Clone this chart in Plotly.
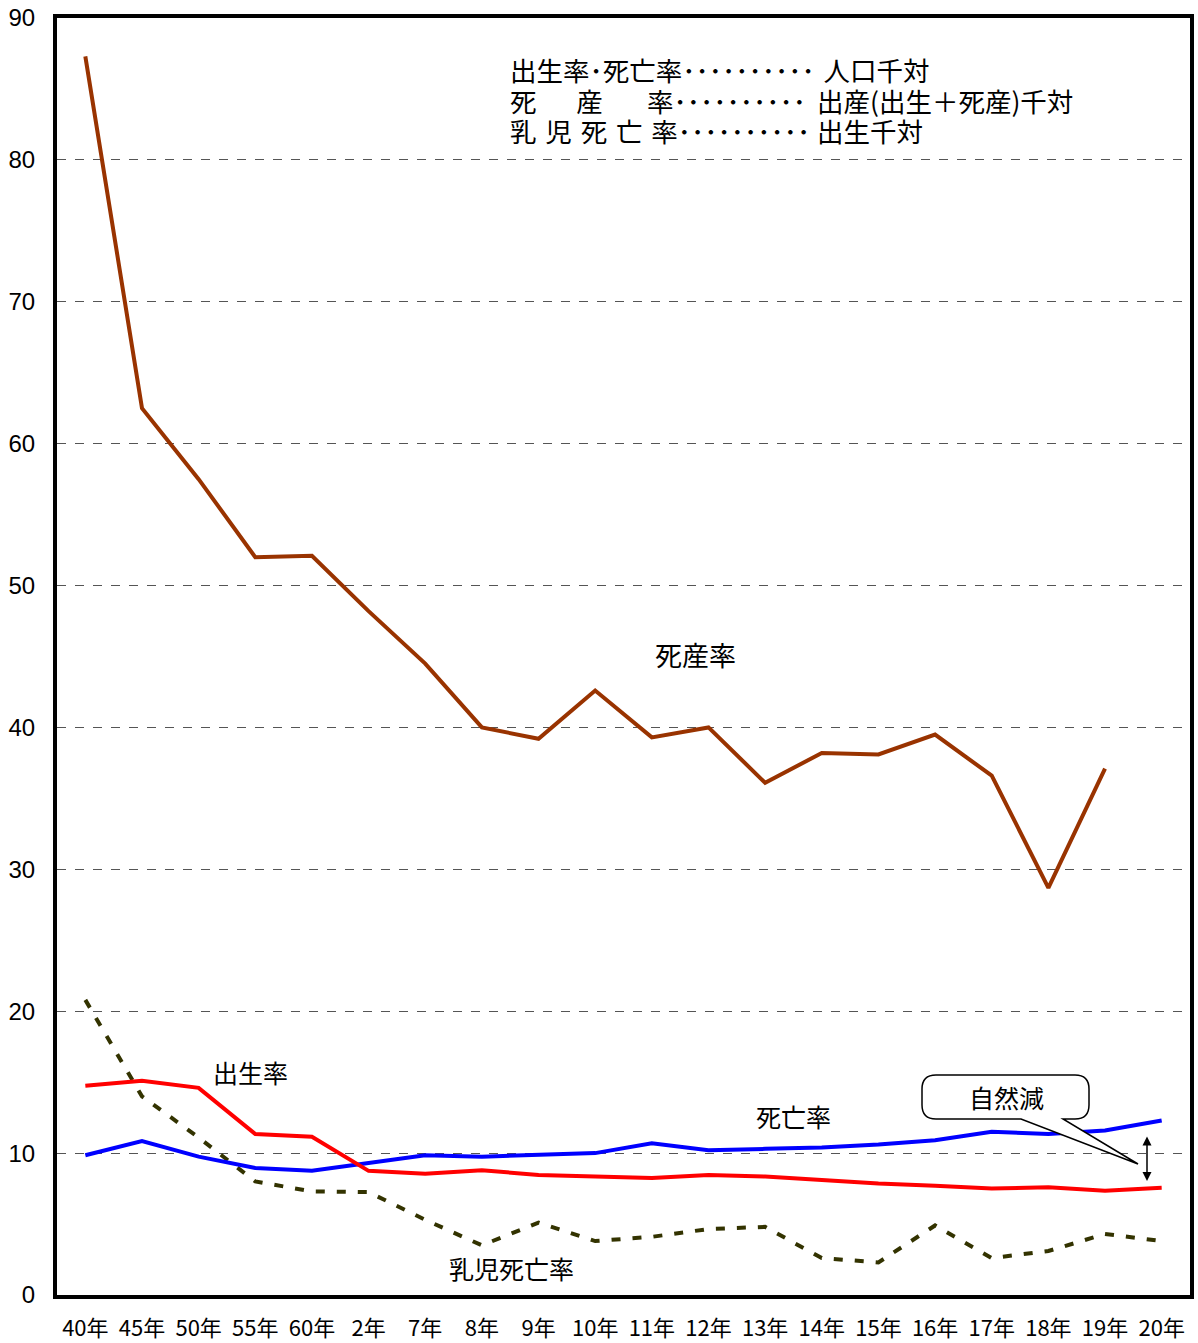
import plotly.graph_objects as go

categories = ["40年", "45年", "50年", "55年", "60年", "2年", "7年", "8年", "9年", "10年",
              "11年", "12年", "13年", "14年", "15年", "16年", "17年", "18年", "19年", "20年"]
stillbirth = [87.3, 62.5, 57.5, 52.0, 52.1, 48.2, 44.5, 40.0, 39.2, 42.6,
              39.3, 40.0, 36.1, 38.2, 38.1, 39.5, 36.6, 28.7, 37.1, None]
birth = [14.75, 15.1, 14.6, 11.35, 11.15, 8.75, 8.55, 8.8, 8.45, 8.35,
         8.25, 8.45, 8.35, 8.1, 7.85, 7.7, 7.5, 7.6, 7.35, 7.55]
death = [9.85, 10.85, 9.75, 8.95, 8.75, 9.3, 9.85, 9.75, 9.85, 10.0,
         10.7, 10.2, 10.3, 10.4, 10.6, 10.9, 11.5, 11.35, 11.6, 12.3]
infant = [20.8, 14.0, 11.1, 8.0, 7.3, 7.25, 5.3, 3.5, 5.1, 3.8,
          4.1, 4.65, 4.8, 2.6, 2.3, 4.9, 2.6, 3.1, 4.3, 3.8]
y_ticks = [0, 10, 20, 30, 40, 50, 60, 70, 80, 90]

FONT = "Noto Sans CJK JP"
W, H = 1198, 1343
L, R, T, B = 57, 1190, 18, 1295

x = list(range(len(categories)))

fig = go.Figure()
fig.add_trace(go.Scatter(x=x, y=stillbirth, mode="lines", line=dict(color="#993300", width=4)))
fig.add_trace(go.Scatter(x=x, y=infant, mode="lines",
                         line=dict(color="#333300", width=4, dash="9px,12px")))
fig.add_trace(go.Scatter(x=x, y=death, mode="lines", line=dict(color="#0000FF", width=4)))
fig.add_trace(go.Scatter(x=x, y=birth, mode="lines", line=dict(color="#FF0000", width=4)))


def px(xp):
    return (xp - L) / (R - L)


def py(yp):
    return (B - yp) / (B - T)


# Callout bubble "自然減"
rl, rr, rt, rb, rad = 922, 1089, 1075, 1119, 14
tail_l, tail_r, tip = 1021, 1063, (1138, 1164)
path = (
    f"M {px(rl+rad)},{py(rt)} L {px(rr-rad)},{py(rt)} "
    f"Q {px(rr)},{py(rt)} {px(rr)},{py(rt+rad)} "
    f"L {px(rr)},{py(rb-rad)} Q {px(rr)},{py(rb)} {px(rr-rad)},{py(rb)} "
    f"L {px(tail_r)},{py(rb)} L {px(tip[0])},{py(tip[1])} L {px(tail_l)},{py(rb)} "
    f"L {px(rl+rad)},{py(rb)} Q {px(rl)},{py(rb)} {px(rl)},{py(rb-rad)} "
    f"L {px(rl)},{py(rt+rad)} Q {px(rl)},{py(rt)} {px(rl+rad)},{py(rt)} Z"
)
fig.add_shape(type="path", path=path, xref="paper", yref="paper",
              line=dict(color="black", width=1.5), fillcolor="white", layer="above")

annos = []


def txt(text, xp, yp, size=25, anchor="center", align="center"):
    annos.append(dict(text=text, x=px(xp), y=py(yp), xref="paper", yref="paper",
                      showarrow=False, xanchor=anchor, yanchor="middle", align=align,
                      font=dict(family=FONT, size=size, color="black")))


txt("自然減", 1006, 1097, 25)
txt("死産率", 695, 654, 27)
txt("出生率", 250, 1072, 25)
txt("死亡率", 793, 1116, 25)
txt("乳児死亡率", 511, 1268, 25)

# notes block (one text, base size sets line pitch, span sets glyph size)
dots = "･" * 10
EM, EN, P4, P6, P3 = "\u2003", "\u2002", "\u2005", "\u2006", "\u2004"
line1 = "出生率･死亡率" + dots + P6 + P6 + "人口千対"
line2 = "死" + EM + EN + "産" + EM + EN + P6 + "率" + dots + P4 + P6 + "出産(出生＋死産)千対"
line3 = "乳" + P3 + "児" + P3 + "死" + P3 + "亡" + P3 + "率" + dots + P4 + "出生千対"
notes = "<br>".join(f"<span style='font-size:26.5px'>{s}</span>" for s in (line1, line2, line3))
txt(notes, 508, 100, 23.5, "left", "left")

# double arrow
annos.append(dict(x=px(1147), y=py(1181), xref="paper", yref="paper",
                  axref="pixel", ayref="pixel", ax=0, ay=-46, text="", showarrow=True,
                  arrowhead=2, startarrowhead=2, arrowside="end+start",
                  arrowwidth=1.5, arrowsize=1.2, startarrowsize=1.2, arrowcolor="black"))

fig.update_layout(
    width=W, height=H,
    margin=dict(l=L, r=W - R, t=T, b=H - B, autoexpand=False),
    paper_bgcolor="white", plot_bgcolor="white",
    showlegend=False,
    annotations=annos,
    font=dict(family=FONT, size=20, color="black"),
)
fig.update_xaxes(
    range=[-0.5, 19.5], tickmode="array", tickvals=x, ticktext=categories,
    showgrid=False, zeroline=False, showline=True, mirror=True, automargin=False,
    linecolor="black", linewidth=4, ticks="", ticklabelstandoff=11,
    ticklabeloverflow="allow",
    tickfont=dict(family=FONT, size=22, color="black"),
)
fig.update_yaxes(
    range=[0, 90], tickmode="array", tickvals=y_ticks,
    showgrid=True, gridcolor="#555555", gridwidth=1, griddash="dash",
    zeroline=False, showline=True, mirror=True, automargin=False,
    linecolor="black", linewidth=4, ticks="", ticklabelstandoff=13,
    ticklabeloverflow="allow",
    tickfont=dict(family="Liberation Sans", size=24, color="black"),
)

fig.write_html("out.html", config={"displayModeBar": False},
               post_script="document.body.style.margin='0';document.body.style.overflow='hidden';")
